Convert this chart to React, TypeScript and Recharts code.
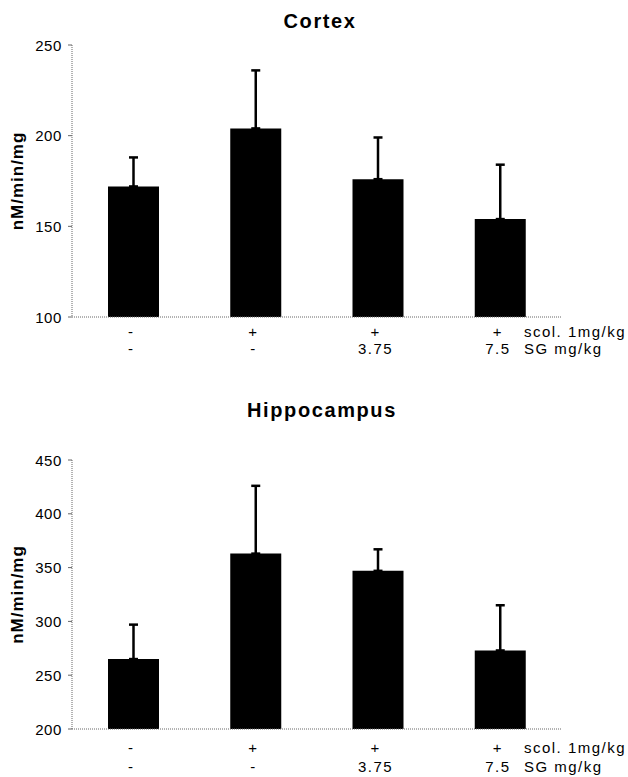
import { BarChart, Bar, XAxis, YAxis, ErrorBar } from 'recharts'

const groups = ['ctrl', 'scol', 'scol+SG3.75', 'scol+SG7.5']
const scolRow = ['-', '+', '+', '+']
const sgRow = ['-', '-', '3.75', '7.5']

const cortexMean = [172, 204, 176, 154]
const cortexErr = [16, 32, 23, 30]
const cortexTicks = [100, 150, 200, 250]

const hippoMean = [265, 363, 347, 273]
const hippoErr = [32, 63, 20, 42]
const hippoTicks = [200, 250, 300, 350, 400, 450]

const font = "Arial, 'Liberation Sans', sans-serif"

const build = (means: number[], errs: number[]) =>
  groups.map((g, i) => ({ name: g, idx: i, mean: means[i], err: [0, errs[i]] }))

const YTick = (props: any) => {
  const { x, y, payload } = props
  return (
    <text x={x} y={y + 5.5} textAnchor='end' fontSize={15} fontFamily={font} fill='#000' letterSpacing={0.6}>
      {payload.value}
    </text>
  )
}

const makeXTick = (row1: number, row2: number) => (props: any) => {
  const { x, y, index } = props
  const i = typeof index === 'number' ? index : groups.indexOf(props.payload?.value)
  const style = { fontSize: 15, fontFamily: font, fill: '#000', letterSpacing: 1.5 }
  return (
    <g>
      <text x={x - 2} y={y + row1} textAnchor='middle' style={style}>{scolRow[i]}</text>
      <text x={x - 2} y={y + row2} textAnchor='middle' style={style}>{sgRow[i]}</text>
      {i === 3 && (
        <>
          <text x={x + 24} y={y + row1} textAnchor='start' style={style}>scol. 1mg/kg</text>
          <text x={x + 24} y={y + row2} textAnchor='start' style={style}>SG mg/kg</text>
        </>
      )}
    </g>
  )
}

const yLabel = (props: any) => {
  const vb = props.viewBox || { x: 0, y: 45, width: 72, height: 272 }
  const cx = 17
  const cy = vb.y + vb.height / 2
  return (
    <text
      x={cx}
      y={cy}
      transform={`rotate(-90 ${cx} ${cy})`}
      textAnchor='middle'
      dominantBaseline='central'
      fontSize={17}
      fontWeight='bold'
      fontFamily={font}
      fill='#000'
      letterSpacing={1}
    >
      nM/min/mg
    </text>
  )
}

type PanelProps = {
  data: { name: string; mean: number; err: number[] }[]
  ticks: number[]
  height: number
  top: number
  xHeight: number
  row1: number
  row2: number
}

function Panel({ data, ticks, height, top, xHeight, row1, row2 }: PanelProps) {
  const axisStyle = { stroke: '#666', strokeDasharray: '1 1' }
  return (
    <BarChart width={628} height={height} data={data} margin={{ top, right: 67, left: 0, bottom: 0 }}>
      <XAxis
        dataKey='name'
        height={xHeight}
        tickLine={false}
        tickSize={0}
        tickMargin={0}
        axisLine={axisStyle}
        tick={makeXTick(row1, row2)}
        interval={0}
      />
      <YAxis
        type='number'
        width={72}
        domain={[ticks[0], ticks[ticks.length - 1]]}
        ticks={ticks}
        tickSize={4}
        tickMargin={6}
        tickLine={{ stroke: '#666' }}
        axisLine={axisStyle}
        tick={<YTick />}
        label={yLabel}
      />
      <Bar dataKey='mean' fill='#000' barSize={51} isAnimationActive={false}>
        <ErrorBar dataKey='err' width={4.5} stroke='#000' strokeWidth={2.5} direction='y' />
      </Bar>
    </BarChart>
  )
}

export default function App() {
  const titleStyle = {
    position: 'absolute' as const,
    fontFamily: font,
    fontWeight: 'bold' as const,
    fontSize: 20,
    lineHeight: '20px',
    letterSpacing: 1.6,
    textAlign: 'center' as const,
    color: '#000',
  }
  return (
    <div style={{ position: 'absolute', left: 0, top: 0, width: 628, height: 777, background: '#fff', overflow: 'hidden' }}>
      <div style={{ ...titleStyle, left: 0, width: 640, top: 11 }}>Cortex</div>
      <div style={{ position: 'absolute', left: 0, top: 0 }}>
        <Panel data={build(cortexMean, cortexErr)} ticks={cortexTicks} height={380} top={45} xHeight={63} row1={20} row2={37} />
      </div>
      <div style={{ ...titleStyle, left: 0, width: 644, top: 400 }}>Hippocampus</div>
      <div style={{ position: 'absolute', left: 0, top: 380 }}>
        <Panel data={build(hippoMean, hippoErr)} ticks={hippoTicks} height={397} top={80} xHeight={48} row1={24} row2={43} />
      </div>
    </div>
  )
}
